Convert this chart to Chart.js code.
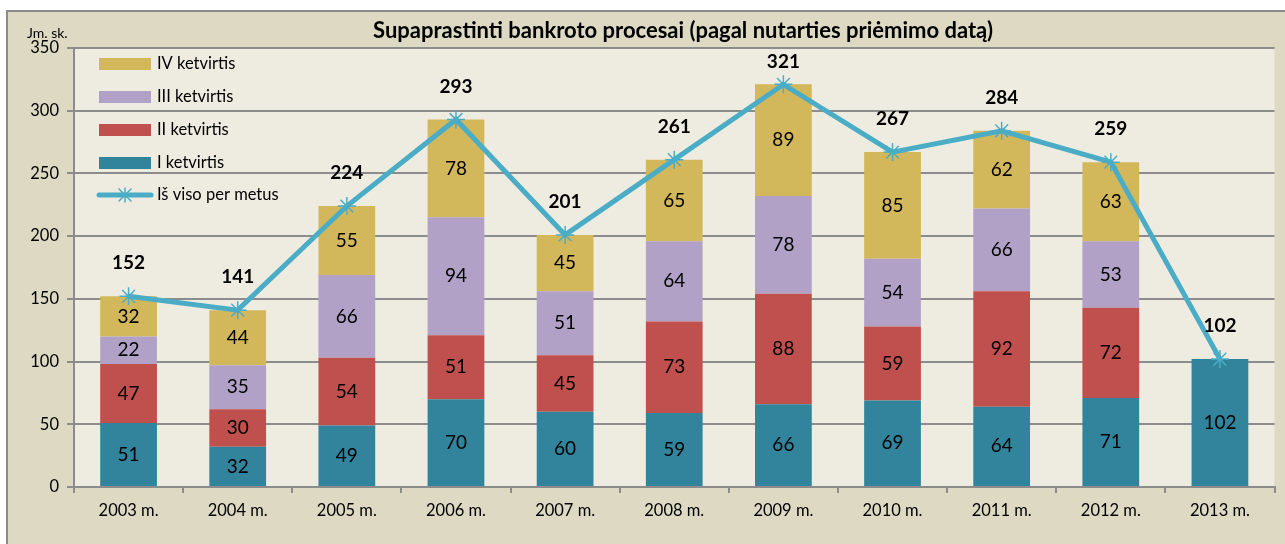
<!DOCTYPE html>
<html>
<head>
<meta charset="utf-8">
<script src="https://cdn.jsdelivr.net/npm/chart.js@4/dist/chart.umd.min.js"></script>
<style>
    html, body { margin: 0; padding: 0; background: #ffffff; }
    #wrap { width: 1285px; height: 544px; position: relative; }
</style>
</head>
<body>
<div id="wrap"><canvas id="bankrotai-chart" width="1285" height="544"></canvas></div>
<script>
var metai = ["2003 m.", "2004 m.", "2005 m.", "2006 m.", "2007 m.", "2008 m.", "2009 m.", "2010 m.", "2011 m.", "2012 m.", "2013 m."];
var ketvirtisI = [51, 32, 49, 70, 60, 59, 66, 69, 64, 71, 102];
var ketvirtisII = [47, 30, 54, 51, 45, 73, 88, 59, 92, 72, null];
var ketvirtisIII = [22, 35, 66, 94, 51, 64, 78, 54, 66, 53, null];
var ketvirtisIV = [32, 44, 55, 78, 45, 65, 89, 85, 62, 63, null];
var isViso = [152, 141, 224, 293, 201, 261, 321, 267, 284, 259, 102];
var yTicks = [0, 50, 100, 150, 200, 250, 300, 350];

var FONT = "Lato, 'Open Sans', sans-serif";
var gridColor = "#8c8c8c";

// background, frame, plot area, title, legend and value labels
var piesimas = {
    id: 'piesimas',
    beforeDraw: function (chart) {
        var ctx = chart.ctx;
        var a = chart.chartArea;
        ctx.save();
        ctx.fillStyle = "#ffffff";
        ctx.fillRect(0, 0, chart.width, chart.height);
        ctx.fillStyle = "#ddd9c3";
        ctx.fillRect(7, 11, chart.width, chart.height);
        ctx.strokeStyle = gridColor;
        ctx.lineWidth = 2;
        ctx.beginPath();
        ctx.moveTo(7, chart.height);
        ctx.lineTo(7, 11);
        ctx.lineTo(chart.width, 11);
        ctx.stroke();
        ctx.fillStyle = "#eeece1";
        ctx.fillRect(a.left, a.top, a.right - a.left, a.bottom - a.top);

        ctx.fillStyle = "#000000";
        ctx.textAlign = "center";
        ctx.textBaseline = "middle";
        ctx.font = "bold 22px " + FONT;
        ctx.fillText("Supaprastinti bankroto procesai (pagal nutarties priėmimo datą)", 683, 31);
        ctx.textAlign = "left";
        ctx.font = "14px " + FONT;
        ctx.fillText("Jm. sk.", 27, 33);
        ctx.restore();
    },
    afterDatasetsDraw: function (chart) {
        var ctx = chart.ctx;
        ctx.save();
        ctx.fillStyle = "#000000";
        ctx.textAlign = "center";
        ctx.textBaseline = "middle";
        ctx.font = "19px " + FONT;
        for (var d = 0; d < 4; d++) {
            var meta = chart.getDatasetMeta(d);
            var vals = chart.data.datasets[d].data;
            for (var i = 0; i < meta.data.length; i++) {
                if (vals[i] == null) continue;
                var b = meta.data[i];
                ctx.fillText(vals[i], b.x, (b.y + b.base) / 2);
            }
        }
        ctx.font = "bold 19px " + FONT;
        var lineMeta = chart.getDatasetMeta(4);
        for (var i = 0; i < lineMeta.data.length; i++) {
            var p = lineMeta.data[i];
            var ly = Math.max(p.y - 33, 62);
            ctx.fillText(isViso[i], p.x, ly);
        }

        // legend
        var legendItems = [3, 2, 1, 0];
        var rowY = [64, 97, 130, 163];
        ctx.font = "16.5px " + FONT;
        ctx.textAlign = "left";
        for (var k = 0; k < legendItems.length; k++) {
            var ds = chart.data.datasets[legendItems[k]];
            ctx.fillStyle = ds.backgroundColor;
            ctx.fillRect(99, rowY[k] - 6, 52, 12);
            ctx.fillStyle = "#000000";
            ctx.fillText(ds.label, 157, rowY[k]);
        }
        var lds = chart.data.datasets[4];
        ctx.strokeStyle = lds.borderColor;
        ctx.lineWidth = 5;
        ctx.lineCap = "round";
        ctx.beginPath();
        ctx.moveTo(99, 195);
        ctx.lineTo(151, 195);
        ctx.stroke();
        ctx.lineWidth = 1.5;
        ctx.beginPath();
        ctx.moveTo(125, 188); ctx.lineTo(125, 202);
        ctx.moveTo(119, 189); ctx.lineTo(131, 201);
        ctx.moveTo(131, 189); ctx.lineTo(119, 201);
        ctx.stroke();
        ctx.fillStyle = "#000000";
        ctx.fillText(lds.label, 157, 195);
        ctx.restore();
    }
};

new Chart(document.getElementById("bankrotai-chart"), {
    type: 'bar',
    data: {
        labels: metai,
        datasets: [
            { label: "I ketvirtis", data: ketvirtisI, backgroundColor: "#31849b", stack: "q", order: 1 },
            { label: "II ketvirtis", data: ketvirtisII, backgroundColor: "#c0504d", stack: "q", order: 1 },
            { label: "III ketvirtis", data: ketvirtisIII, backgroundColor: "#b2a1c7", stack: "q", order: 1 },
            { label: "IV ketvirtis", data: ketvirtisIV, backgroundColor: "#d3b75b", stack: "q", order: 1 },
            {
                type: 'line',
                label: "Iš viso per metus",
                data: isViso,
                stack: "viso",
                order: 0,
                borderColor: "#4bacc6",
                backgroundColor: "#4bacc6",
                borderWidth: 5,
                tension: 0,
                pointStyle: 'star',
                pointRadius: 9,
                pointBorderWidth: 1.5,
                pointBorderColor: "#4bacc6"
            }
        ]
    },
    options: {
        responsive: false,
        animation: false,
        datasets: { bar: { categoryPercentage: 1, barPercentage: 0.52, borderWidth: 0 } },
        layout: { padding: { left: 0, top: 48, right: 6, bottom: 0 } },
        plugins: {
            legend: { display: false },
            title: { display: false },
            tooltip: { enabled: false }
        },
        scales: {
            x: {
                stacked: true,
                grid: { display: true, drawOnChartArea: false, drawTicks: true, tickLength: 6, color: gridColor, lineWidth: 2, offset: true },
                border: { display: true, color: gridColor, width: 2 },
                ticks: { color: "#000000", font: { family: FONT, size: 16.5 }, padding: 8 },
                afterFit: function (s) { s.height = 57; }
            },
            y: {
                stacked: true,
                min: 0,
                max: 350,
                afterBuildTicks: function (s) { s.ticks = yTicks.map(function (v) { return { value: v }; }); },
                grid: { color: gridColor, lineWidth: 2, tickLength: 7 },
                border: { display: true, color: gridColor, width: 2 },
                ticks: { color: "#000000", font: { family: FONT, size: 16.5 }, padding: 8 },
                afterFit: function (s) { s.width = 74; }
            }
        }
    },
    plugins: [piesimas]
});
</script>
</body>
</html>
